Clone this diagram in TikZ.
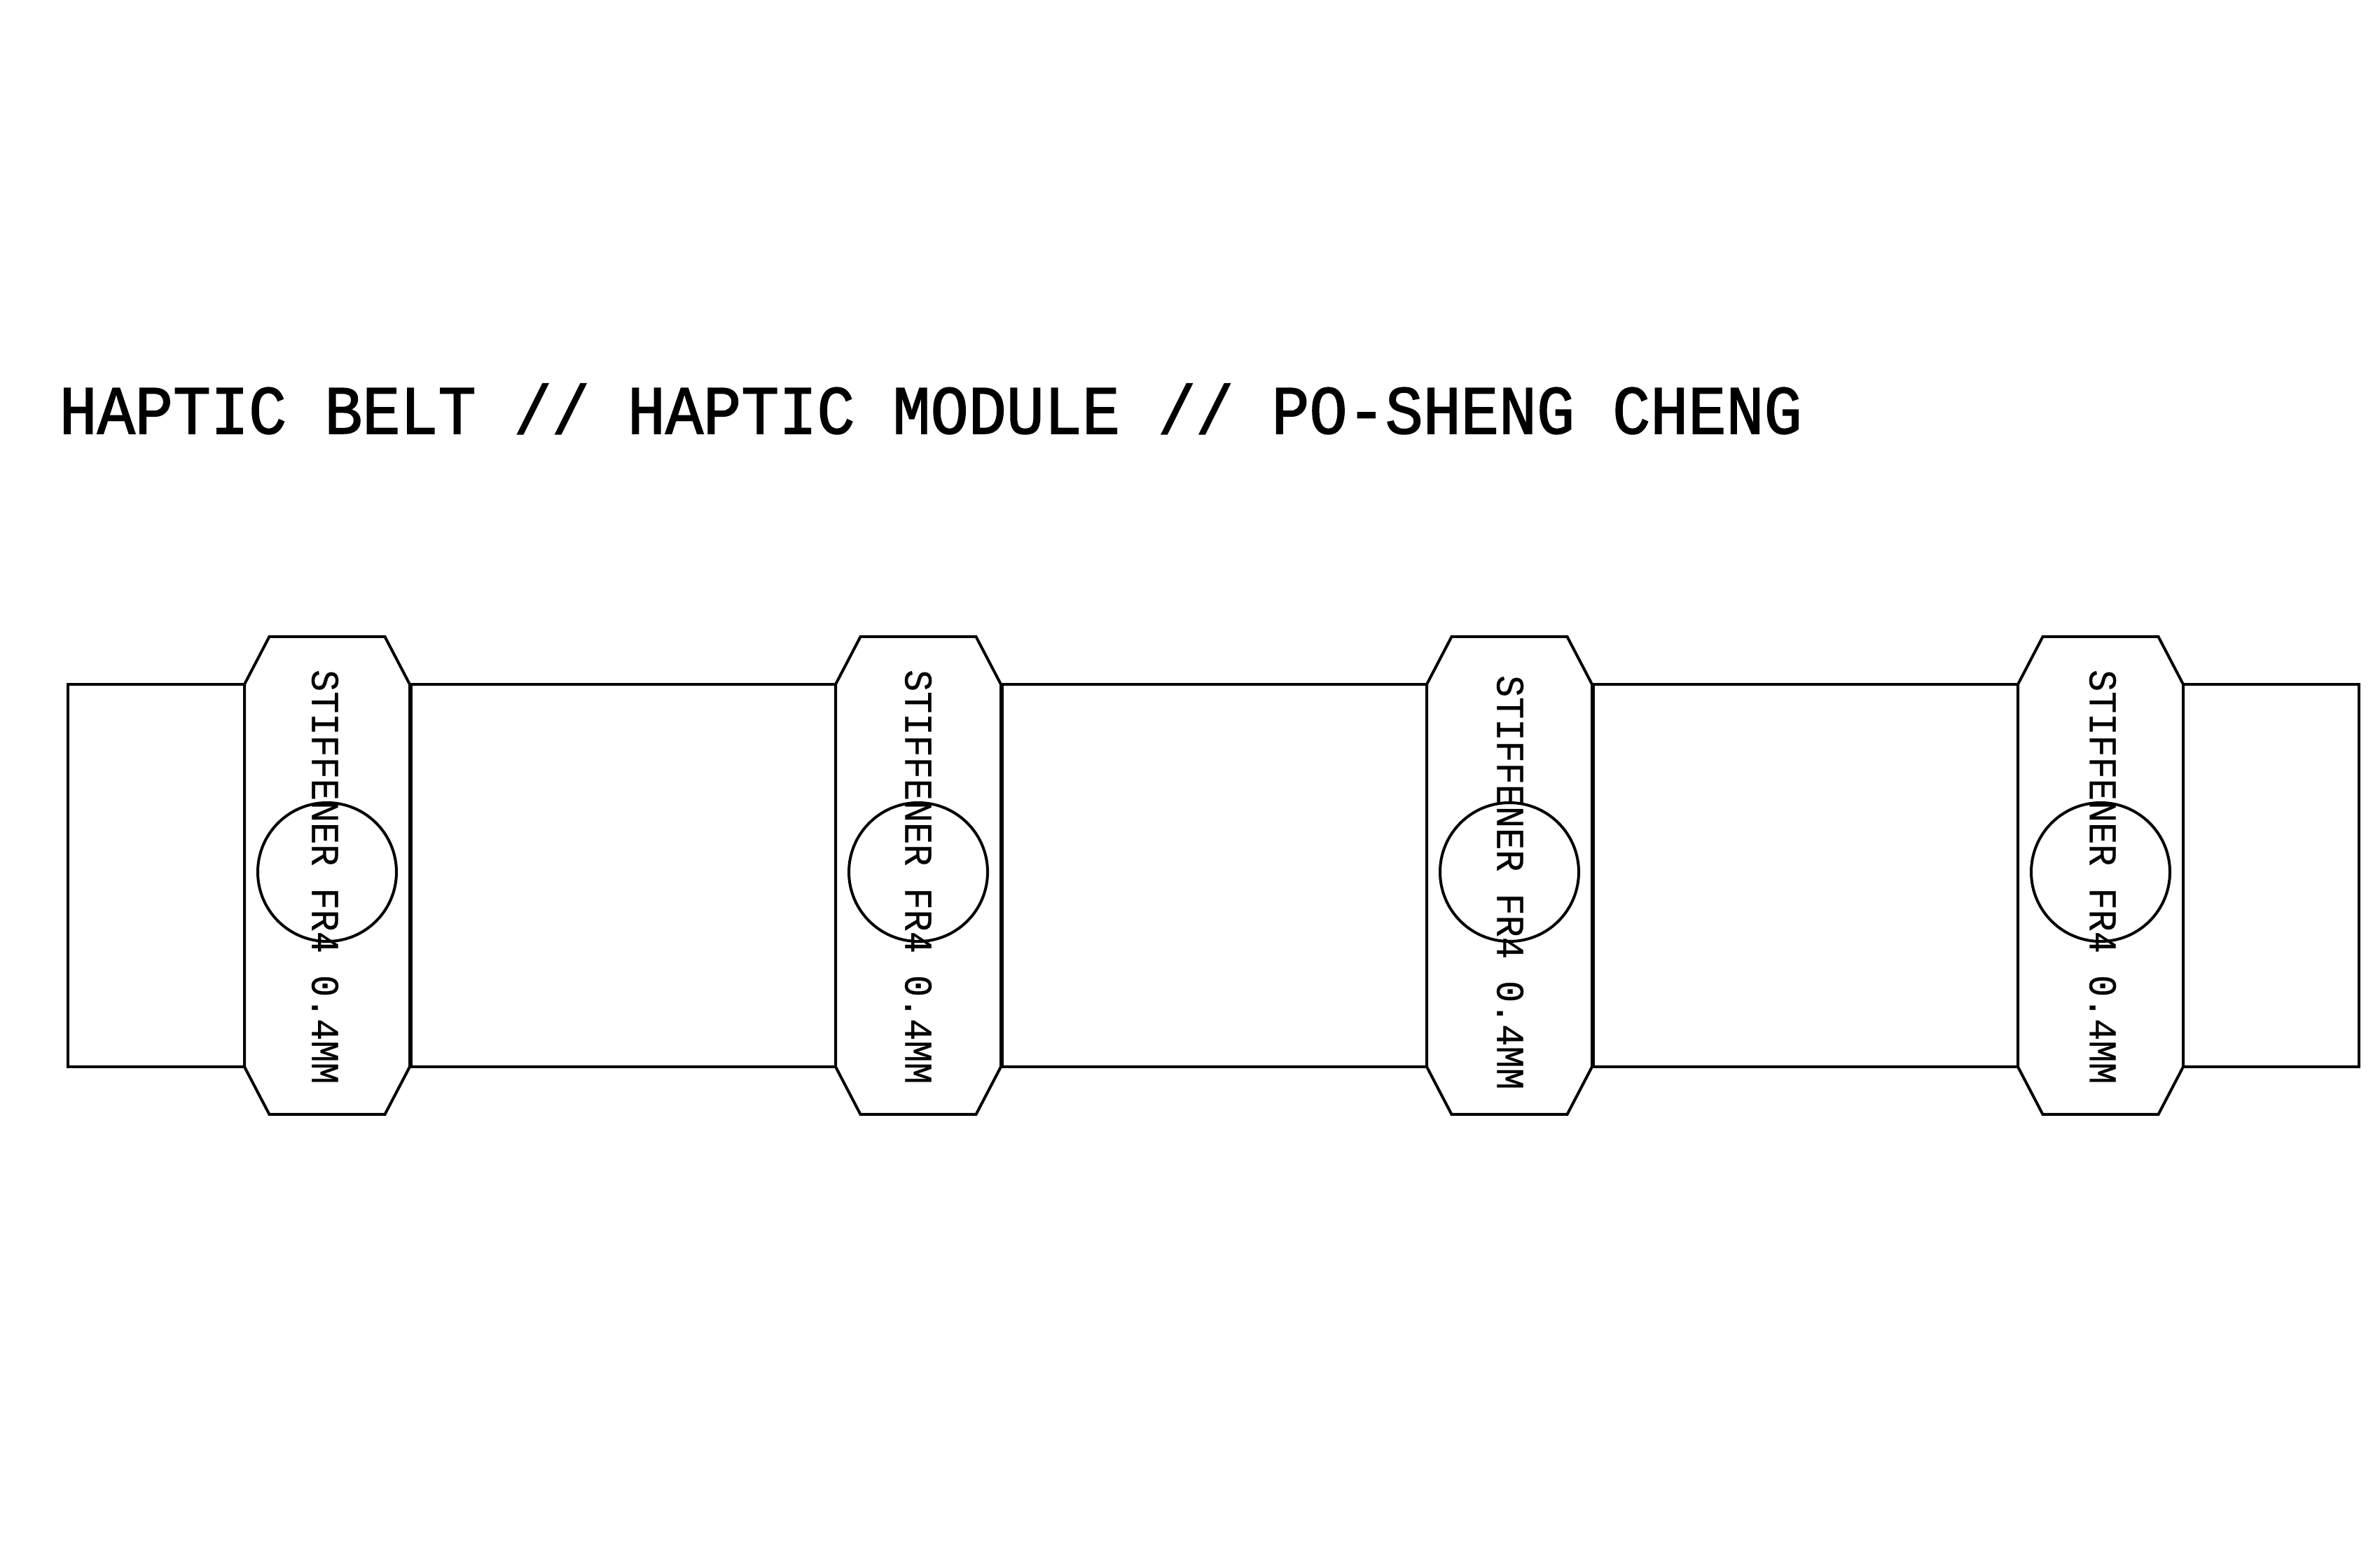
\documentclass[tikz,border=0pt]{standalone}
\usepackage{fontspec}
\newfontfamily\cadfont[FakeStretch=0.923,FakeBold=0.5]{Liberation Mono}
\newfontfamily\cadtitlefont[FakeStretch=0.916,FakeBold=1.6]{Liberation Mono}
\tikzset{
  outline/.style={draw=black,line width=0.04cm,line join=miter},
  stifflabel/.style={rotate=-90,inner sep=0pt,font=\cadfont\fontsize{16}{16}\selectfont},
  titlelabel/.style={anchor=base west,inner sep=0pt,font=\cadtitlefont\fontsize{28}{28}\selectfont}
}
\begin{document}
\begin{tikzpicture}
    \useasboundingbox (0,0) rectangle (33.98,22);

    % Title
    \node[titlelabel] (title) at (0.84,15.81) {HAPTIC BELT // HAPTIC MODULE // PO-SHENG CHENG};

    % Belt segments between the stiffeners
    \draw[outline] (3.49,12.23) -- (0.97,12.23) -- (0.97,6.77) -- (3.49,6.77);
    \draw[outline] (5.87,6.77) rectangle (11.93,12.23);
    \draw[outline] (14.31,6.77) rectangle (20.37,12.23);
    \draw[outline] (22.75,6.77) rectangle (28.81,12.23);
    \draw[outline] (31.17,12.23) -- (33.68,12.23) -- (33.68,6.77) -- (31.17,6.77);

    % Stiffener 1
    \begin{scope}[shift={(4.67,9.5)}]
      \draw[outline] (-0.825,3.41) -- (0.825,3.41) -- (1.18,2.73) -- (1.18,-2.73) -- (0.825,-3.41)
        -- (-0.825,-3.41) -- (-1.18,-2.73) -- (-1.18,2.73) -- cycle;
      \draw[outline] (0,0.05) circle (0.99);
      \node[stifflabel] (label1) at (-0.03,-0.02) {STIFFENER FR4 0.4MM};
    \end{scope}

    % Stiffener 2
    \begin{scope}[shift={(13.11,9.5)}]
      \draw[outline] (-0.825,3.41) -- (0.825,3.41) -- (1.18,2.73) -- (1.18,-2.73) -- (0.825,-3.41)
        -- (-0.825,-3.41) -- (-1.18,-2.73) -- (-1.18,2.73) -- cycle;
      \draw[outline] (0,0.05) circle (0.99);
      \node[stifflabel] (label2) at (0,-0.02) {STIFFENER FR4 0.4MM};
    \end{scope}

    % Stiffener 3
    \begin{scope}[shift={(21.55,9.5)}]
      \draw[outline] (-0.825,3.41) -- (0.825,3.41) -- (1.18,2.73) -- (1.18,-2.73) -- (0.825,-3.41)
        -- (-0.825,-3.41) -- (-1.18,-2.73) -- (-1.18,2.73) -- cycle;
      \draw[outline] (0,0.05) circle (0.99);
      \node[stifflabel] (label3) at (0.01,-0.10) {STIFFENER FR4 0.4MM};
    \end{scope}

    % Stiffener 4
    \begin{scope}[shift={(29.99,9.5)}]
      \draw[outline] (-0.825,3.41) -- (0.825,3.41) -- (1.18,2.73) -- (1.18,-2.73) -- (0.825,-3.41)
        -- (-0.825,-3.41) -- (-1.18,-2.73) -- (-1.18,2.73) -- cycle;
      \draw[outline] (0,0.05) circle (0.99);
      \node[stifflabel] (label4) at (0.03,-0.02) {STIFFENER FR4 0.4MM};
    \end{scope}

  \end{tikzpicture}
\end{document}
